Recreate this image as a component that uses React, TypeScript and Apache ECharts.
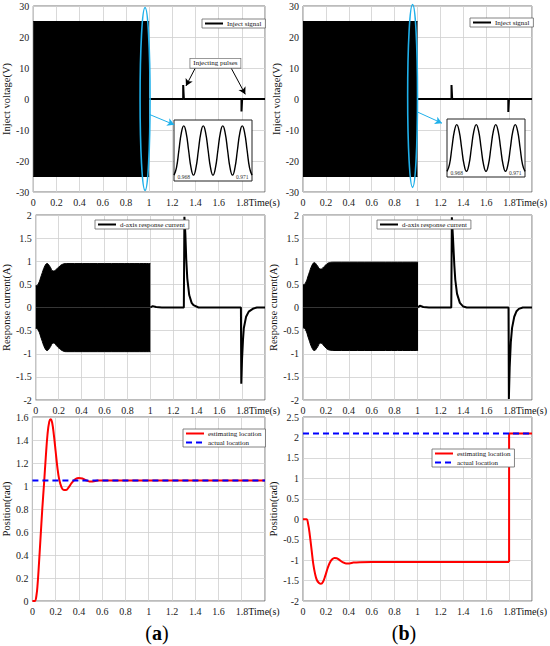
import React, { useEffect, useRef } from "react";
import * as echarts from "echarts";

const FONT = '"Liberation Serif", "Times New Roman", "DejaVu Serif", serif';
const CYAN = "#1fb0ea";

// ---------- time axis ----------
const timeMin = 0;
const timeMax = 2;
const timeStep = 0.2;
const timeUnitLabel = "Time(s)";

// ---------- top panels: inject signal ----------
const injectAmp = 25; // sine amplitude (V) of the high frequency injection
const injectBlockTimes = [0, 1.0];
const injectTailA: [number, number][] = [
  [1, 0], [1.294, 0], [1.294, 4.5], [1.3, 4.5], [1.3, 0],
  [1.797, 0], [1.797, -4], [1.803, -4], [1.803, 0], [2, 0],
];
const injectTailB: [number, number][] = [
  [1, 0], [1.297, 0], [1.297, 4.5], [1.303, 4.5], [1.303, 0],
  [1.793, 0], [1.793, -4.2], [1.799, -4.2], [1.799, 0], [2, 0],
];

// inset (zoom of the injected sine)
const insetTimes = [
  0.9675, 0.967625, 0.96775, 0.967875, 0.968, 0.968125, 0.96825, 0.968375,
  0.9685, 0.968625, 0.96875, 0.968875, 0.969, 0.969125, 0.96925, 0.969375,
  0.9695, 0.969625, 0.96975, 0.969875, 0.97, 0.970125, 0.97025, 0.970375,
  0.9705, 0.970625, 0.97075, 0.970875, 0.971, 0.971125, 0.97125, 0.971375, 0.9715,
];
const insetValues = [
  -25, -17.7, 0, 17.7, 25, 17.7, 0, -17.7,
  -25, -17.7, 0, 17.7, 25, 17.7, 0, -17.7,
  -25, -17.7, 0, 17.7, 25, 17.7, 0, -17.7,
  -25, -17.7, 0, 17.7, 25, 17.7, 0, -17.7, -25,
];
const insetTickLabels = [0.968, 0.971];

// ---------- middle panels: d-axis response current ----------
const currentEnvTimesA = [0, 0.02, 0.05, 0.08, 0.1, 0.12, 0.155, 0.19, 0.23, 0.27, 1.0];
const currentEnvUpA = [0.47, 0.5, 0.7, 0.9, 0.95, 0.9, 0.79, 0.85, 0.93, 0.95, 0.95];
const currentEnvLowA = [-0.45, -0.48, -0.68, -0.88, -0.93, -0.88, -0.77, -0.85, -0.93, -0.955, -0.955];
const currentTailA: [number, number][] = [
  [1, 0], [1.02, 0.03], [1.05, 0.01], [1.1, 0], [1.292, 0], [1.297, 1.96],
  [1.305, 1.6], [1.313, 1.05], [1.322, 0.63], [1.339, 0.27], [1.36, 0.1],
  [1.376, 0.05], [1.42, 0], [1.79, 0], [1.793, -1.65], [1.8, -1.1],
  [1.808, -0.7], [1.815, -0.45], [1.835, -0.2], [1.858, -0.09], [1.9, -0.02],
  [1.93, 0], [2, 0],
];

const currentEnvTimesB = [0, 0.02, 0.05, 0.08, 0.1, 0.12, 0.155, 0.19, 0.23, 0.27, 1.005];
const currentEnvUpB = [0.49, 0.52, 0.72, 0.92, 0.97, 0.92, 0.83, 0.9, 0.97, 0.98, 0.98];
const currentEnvLowB = [-0.44, -0.47, -0.68, -0.88, -0.93, -0.88, -0.77, -0.85, -0.92, -0.93, -0.93];
const currentTailB: [number, number][] = [
  [1.005, 0], [1.02, 0.04], [1.05, 0.01], [1.1, 0], [1.295, 0], [1.3, 1.95],
  [1.31, 1.5], [1.322, 0.9], [1.33, 0.6], [1.345, 0.3], [1.37, 0.1],
  [1.4, 0.02], [1.43, 0], [1.795, 0], [1.798, -1.98], [1.805, -1.3],
  [1.815, -0.75], [1.826, -0.44], [1.845, -0.2], [1.865, -0.08],
  [1.885, -0.03], [1.92, 0], [2, 0],
];

// ---------- bottom panels: position ----------
const posEstA: [number, number][] = [
  [0, 0], [0.02, 0], [0.035, 0.05], [0.045, 0.15], [0.055, 0.3], [0.07, 0.55],
  [0.085, 0.8], [0.1, 1.02], [0.115, 1.25], [0.13, 1.45], [0.145, 1.56],
  [0.157, 1.58], [0.17, 1.55], [0.185, 1.44], [0.2, 1.3], [0.215, 1.16],
  [0.23, 1.06], [0.25, 0.99], [0.27, 0.965], [0.29, 0.965], [0.31, 0.985],
  [0.34, 1.03], [0.37, 1.06], [0.4, 1.07], [0.43, 1.065], [0.46, 1.05],
  [0.49, 1.04], [0.52, 1.04], [0.56, 1.047], [0.6, 1.047], [2, 1.047],
];
const posActA: [number, number][] = [[0, 1.047], [2, 1.047]];

const posEstB: [number, number][] = [
  [0, 0], [0.03, 0], [0.045, -0.12], [0.06, -0.4], [0.075, -0.75], [0.09, -1.1],
  [0.105, -1.33], [0.12, -1.48], [0.14, -1.56], [0.157, -1.58], [0.175, -1.53],
  [0.195, -1.38], [0.215, -1.2], [0.235, -1.06], [0.255, -0.98], [0.275, -0.95],
  [0.295, -0.955], [0.315, -0.99], [0.345, -1.05], [0.375, -1.08], [0.405, -1.08],
  [0.44, -1.06], [0.5, -1.05], [0.6, -1.047], [1.8, -1.047],
];
const posJumpB: [number, number][] = [[1.8, -1.047], [1.8, 2.094], [2, 2.094]];
const posActB: [number, number][] = [[0, 2.094], [2, 2.094]];

// ---------- annotations (data coordinates) ----------
const pulseNoteA = { text: "Injecting pulses", at: [1.572, 11.5] };
const pulseArrowsA: [number, number][][] = [
  [[1.404, 10.4], [1.318, 4.2]],
  [[1.702, 10.4], [1.83, 1.5]],
];
const zoomArrowA: [number, number][] = [[1.004, -5], [1.217, -8.3]];
const zoomArrowB: [number, number][] = [[1.0, -4.2], [1.214, -7.8]];
const ellipseA = { t: 0.965, half: 0.043, top: 29.5, bottom: -29.5 };
const ellipseB = { t: 0.957, half: 0.043, top: 30.5, bottom: -28.5 };

const zip = (t: number[], v: number[]) => t.map((x, i) => [x, v[i]]);

const gridStyle = { show: true, borderColor: "#555", borderWidth: 0.8 };
const LEFT_A = 30;
const LEFT_B = 303;
const W_A = 235;
const W_B = 234;
const rows = [
  { top: 6, height: 186 },
  { top: 215, height: 185 },
  { top: 417, height: 184 },
];

function xAxis(gridIndex: number) {
  return {
    type: "value",
    gridIndex,
    min: timeMin,
    max: timeMax,
    interval: timeStep,
    axisLine: { show: false },
    axisTick: { show: false },
    splitLine: { show: true, lineStyle: { color: "#cfcfcf", width: 0.8 } },
    axisLabel: {
      fontSize: 10,
      color: "#222",
      fontFamily: FONT,
      margin: 5,
      showMinLabel: true,
      showMaxLabel: false,
      hideOverlap: false,
      formatter: (v: number) => {
        if (Math.abs(v - timeMax) < 1e-9) return "";
        if (Math.abs(v - (timeMax - timeStep)) < 1e-9) return `{n|${+v.toFixed(1)}}{t|${timeUnitLabel}}`;
        return String(+v.toFixed(1));
      },
      rich: {
        n: { fontSize: 10, fontFamily: FONT, color: "#222", padding: [0, 0, 0, 32] },
        t: { fontSize: 10, fontFamily: FONT, color: "#111" },
      },
    },
  };
}

function yAxis(gridIndex: number, min: number, max: number, interval: number, name: string, nameGap: number) {
  return {
    type: "value",
    gridIndex,
    min,
    max,
    interval,
    name,
    nameLocation: "middle",
    nameGap,
    nameTextStyle: { fontSize: 10.5, fontFamily: FONT, color: "#111" },
    axisLine: { show: false },
    axisTick: { show: false },
    splitLine: { show: true, lineStyle: { color: "#cfcfcf", width: 0.8 } },
    axisLabel: { fontSize: 10, color: "#222", fontFamily: FONT, margin: 4, showMinLabel: true, showMaxLabel: true },
  };
}

function blockSeries(name: string, axis: number, data: number[][], smooth: boolean, extra: any = {}) {
  return {
    name,
    type: "line",
    xAxisIndex: axis,
    yAxisIndex: axis,
    data,
    smooth,
    symbol: "none",
    lineStyle: { color: "#000", width: 1 },
    areaStyle: { color: "#000", opacity: 1 },
    z: 2,
    ...extra,
  };
}

function lineSeries(name: string, axis: number, data: number[][], color: string, extra: any = {}) {
  return {
    name,
    type: "line",
    xAxisIndex: axis,
    yAxisIndex: axis,
    data,
    symbol: "none",
    lineStyle: { color, width: 2 },
    itemStyle: { color },
    z: 3,
    ...extra,
  };
}

function arrowMark(arrows: [number, number][][], color: string) {
  return {
    silent: true,
    symbol: ["none", "arrow"],
    symbolSize: [6, 7],
    lineStyle: { color, width: 1, type: "solid" },
    itemStyle: { color },
    label: { show: false },
    emphasis: { disabled: true },
    data: arrows.map((a) => [{ coord: a[0] }, { coord: a[1] }]),
  };
}

function legend(names: string[], left: number, top: number) {
  return {
    data: names,
    left,
    top,
    z: 10,
    orient: "vertical",
    selectedMode: false,
    backgroundColor: "#fff",
    borderColor: "#666",
    borderWidth: 0.8,
    borderRadius: 0,
    padding: [1, 4, 1, 2],
    itemWidth: 18,
    itemHeight: 7,
    itemGap: 2,
    itemStyle: { opacity: 0, color: "rgba(0,0,0,0)", borderWidth: 0 },
    textStyle: { fontSize: 7, fontFamily: FONT, color: "#111", padding: [0, 0, 0, -1] },
  };
}

export default function App() {
  const ref = useRef<HTMLDivElement>(null);

  useEffect(() => {
    document.body.style.margin = "0";
    if (!ref.current) return;
    const chart = echarts.init(ref.current, undefined, { renderer: "svg" });

    const grids: any[] = [];
    rows.forEach((r) => grids.push({ left: LEFT_A, top: r.top, width: W_A, height: r.height, ...gridStyle }));
    rows.forEach((r) => grids.push({ left: LEFT_B, top: r.top, width: W_B, height: r.height, ...gridStyle }));
    // insets
    grids.push({ left: 174, top: 120, width: 78, height: 61, show: true, borderColor: "#222", borderWidth: 1, backgroundColor: "#fff", z: 5 });
    grids.push({ left: 447, top: 119, width: 78, height: 58, show: true, borderColor: "#222", borderWidth: 1, backgroundColor: "#fff", z: 5 });

    const xAxes: any[] = [0, 1, 2, 3, 4, 5].map((i) => xAxis(i));
    const yAxes: any[] = [
      yAxis(0, -30, 30, 10, "Inject voltage(V)", 15),
      yAxis(1, -2, 2, 0.5, "Response current(A)", 19),
      yAxis(2, 0, 1.6, 0.2, "Position(rad)", 17),
      yAxis(3, -30, 30, 10, "Inject voltage(V)", 19),
      yAxis(4, -2, 2, 0.5, "Response current(A)", 20),
      yAxis(5, -2, 2.5, 0.5, "Position(rad)", 18),
    ];
    [6, 7].forEach((g) => {
      xAxes.push({
        type: "value",
        gridIndex: g,
        min: insetTimes[0],
        max: insetTimes[insetTimes.length - 1],
        z: 6,
        axisLine: { show: false },
        axisTick: { show: false },
        splitLine: { show: false },
        axisLabel: {
          show: true,
          inside: true,
          margin: 1,
          fontSize: 5.5,
          color: "#333",
          fontFamily: FONT,
          customValues: insetTickLabels,
          formatter: (v: number) => v.toFixed(3),
        },
      });
      yAxes.push({
        type: "value",
        gridIndex: g,
        min: -31,
        max: 31,
        z: 6,
        axisLine: { show: false },
        axisTick: { show: false },
        splitLine: { show: false },
        axisLabel: { show: false },
      });
    });

    const insetData = zip(insetTimes, insetValues);

    const series: any[] = [
      // (a) top
      blockSeries("inj-up-a", 0, injectBlockTimes.map((t) => [t, injectAmp]), false, {
        markLine: arrowMark([zoomArrowA], CYAN),
      }),
      blockSeries("inj-low-a", 0, injectBlockTimes.map((t) => [t, -injectAmp]), false),
      lineSeries("Inject signal", 0, injectTailA, "#000", { markLine: arrowMark(pulseArrowsA, "#000") }),
      // (a) middle
      blockSeries("cur-up-a", 1, zip(currentEnvTimesA, currentEnvUpA), true),
      blockSeries("cur-low-a", 1, zip(currentEnvTimesA, currentEnvLowA), true),
      lineSeries("d-axis response current", 1, currentTailA, "#000"),
      // (a) bottom
      lineSeries("estimating location", 2, posEstA, "#ff0000", { smooth: 0.4 }),
      lineSeries("actual location", 2, posActA, "#0000ff", { lineStyle: { color: "#0000ff", width: 2, type: [6, 4] }, z: 4 }),
      // (b) top
      blockSeries("inj-up-b", 3, injectBlockTimes.map((t) => [t, injectAmp]), false, {
        markLine: arrowMark([zoomArrowB], CYAN),
      }),
      blockSeries("inj-low-b", 3, injectBlockTimes.map((t) => [t, -injectAmp]), false),
      lineSeries("Inject signal", 3, injectTailB, "#000"),
      // (b) middle
      blockSeries("cur-up-b", 4, zip(currentEnvTimesB, currentEnvUpB), true),
      blockSeries("cur-low-b", 4, zip(currentEnvTimesB, currentEnvLowB), true),
      lineSeries("d-axis response current", 4, currentTailB, "#000"),
      // (b) bottom
      lineSeries("estimating location", 5, posEstB, "#ff0000", { smooth: 0.4 }),
      lineSeries("estimating location", 5, posJumpB, "#ff0000"),
      lineSeries("actual location", 5, posActB, "#0000ff", { lineStyle: { color: "#0000ff", width: 2, type: [6, 4] }, z: 4 }),
      // insets
      lineSeries("inset-a", 6, insetData, "#000", { smooth: true, lineStyle: { color: "#000", width: 1.4 }, z: 7 }),
      lineSeries("inset-b", 7, insetData, "#000", { smooth: true, lineStyle: { color: "#000", width: 1.4 }, z: 7 }),
    ];

    const option: any = {
      animation: false,
      backgroundColor: "#fff",
      textStyle: { fontFamily: FONT },
      grid: grids,
      xAxis: xAxes,
      yAxis: yAxes,
      legend: [
        legend(["Inject signal"], 202, 19),
        legend(["d-axis response current"], 95, 220),
        legend(["estimating location", "actual location"], 183, 429),
        legend(["Inject signal"], 470, 18),
        legend(["d-axis response current"], 377, 220),
        legend(["estimating location", "actual location"], 432, 449),
      ],
      series,
    };
    chart.setOption(option);

    const px = (g: number, x: number, y: number) => chart.convertToPixel({ gridIndex: g } as any, [x, y]) as number[];
    const graphics: any[] = [];
    [
      { g: 0, e: ellipseA },
      { g: 3, e: ellipseB },
    ].forEach(({ g, e }) => {
      const c = px(g, e.t, (e.top + e.bottom) / 2);
      const k = px(g, e.t + e.half, e.top);
      graphics.push({
        type: "ellipse",
        silent: true,
        z: 20,
        shape: { cx: c[0], cy: c[1], rx: k[0] - c[0], ry: c[1] - k[1] },
        style: { fill: "none", stroke: CYAN, lineWidth: 1.6 },
      });
    });
    const np = px(0, pulseNoteA.at[0], pulseNoteA.at[1]);
    graphics.push({
      type: "text",
      silent: true,
      z: 20,
      x: np[0],
      y: np[1],
      style: {
        text: pulseNoteA.text,
        fill: "#111",
        font: `7px ${FONT}`,
        align: "center",
        verticalAlign: "middle",
        backgroundColor: "#fff",
        borderColor: "#777",
        borderWidth: 0.8,
        padding: [1, 3, 1, 3],
      },
    });
    [
      { label: "a", x: 157, y: 633 },
      { label: "b", x: 404, y: 633 },
    ].forEach((t) => {
      graphics.push({
        type: "text",
        silent: true,
        x: t.x,
        y: t.y,
        style: {
          text: `{p|(}{b|${t.label}}{p|)}`,
          align: "center",
          verticalAlign: "middle",
          rich: {
            p: { fontSize: 20, fontFamily: FONT, fill: "#000" },
            b: { fontSize: 20, fontFamily: FONT, fontWeight: "bold", fill: "#000" },
          },
        },
      });
    });
    chart.setOption({ graphic: graphics });

    return () => chart.dispose();
  }, []);

  return (
    <div
      ref={ref}
      style={{ position: "absolute", left: 0, top: 0, width: 550, height: 646, background: "#fff" }}
    />
  );
}
